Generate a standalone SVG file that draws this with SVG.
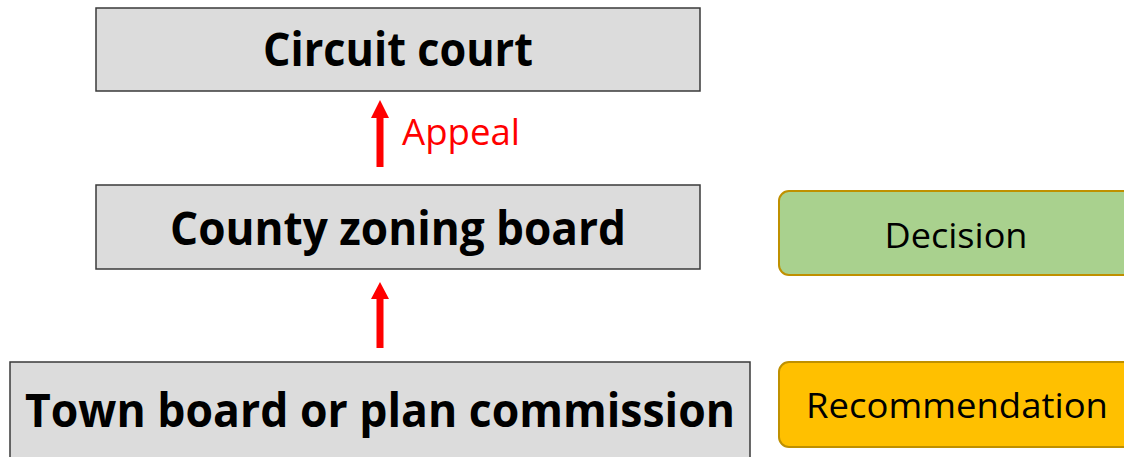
<svg xmlns="http://www.w3.org/2000/svg" width="1124" height="457" viewBox="0 0 1124 457">
<style>
.box{fill:#DCDCDC;stroke:#3A3A3A;stroke-width:1.5}
.key{stroke:#BF9000;stroke-width:2}
.t{font-family:"Open Sans","Liberation Sans",sans-serif;fill:#000}
.b{font-weight:bold;font-size:46px}
.r{font-size:35px}
.arr{fill:#FF0000}
</style>
<rect width="1124" height="457" fill="#FFFFFF"/>
<g id="circuit-court">
<rect class="box" x="96" y="8" width="604" height="83"/>
<text class="t b" x="398" y="66" text-anchor="middle" textLength="270" lengthAdjust="spacingAndGlyphs">Circuit court</text>
</g>
<g id="county-zoning-board">
<rect class="box" x="96" y="185" width="604" height="84"/>
<text class="t b" x="398" y="245" text-anchor="middle" textLength="456" lengthAdjust="spacingAndGlyphs">County zoning board</text>
</g>
<g id="town-board">
<rect class="box" x="10" y="362" width="740" height="96"/>
<text class="t b" x="380" y="427" text-anchor="middle" textLength="710" lengthAdjust="spacingAndGlyphs">Town board or plan commission</text>
</g>
<g id="decision">
<rect class="key" x="779" y="191" width="370" height="84" rx="10" fill="#A9D18E"/>
<text class="t r" x="956" y="248" text-anchor="middle" textLength="143" lengthAdjust="spacingAndGlyphs">Decision</text>
</g>
<g id="recommendation">
<rect class="key" x="779" y="362" width="370" height="85" rx="10" fill="#FFC000"/>
<text class="t r" x="957" y="418" text-anchor="middle" textLength="302" lengthAdjust="spacingAndGlyphs">Recommendation</text>
</g>
<g id="connectors">
<polygon class="arr" points="380,100 389,118 383.5,118 383.5,167 376.5,167 376.5,118 371,118"/>
<text class="t" x="402" y="145" font-size="37" fill="#FF0000" style="fill:#FF0000" textLength="118" lengthAdjust="spacingAndGlyphs">Appeal</text>
<polygon class="arr" points="380,282 389,299 383.5,299 383.5,348 376.5,348 376.5,299 371,299"/>
</g>
</svg>
